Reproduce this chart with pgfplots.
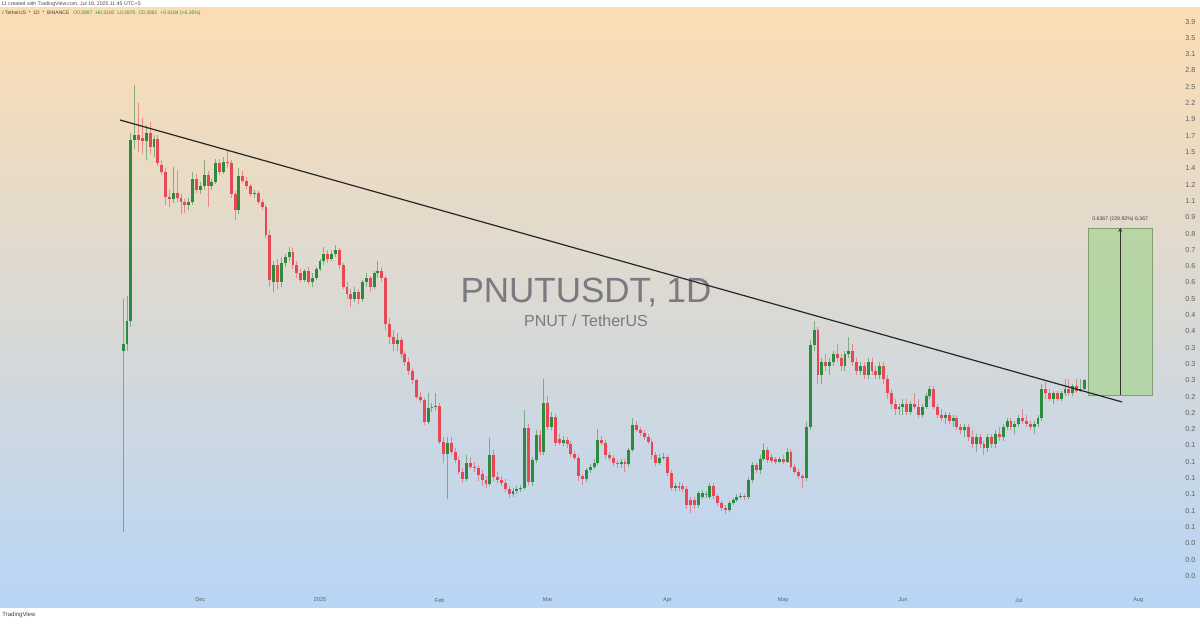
\documentclass[border=0pt]{standalone}
\usepackage{pgfplots}
\pgfplotsset{compat=1.18}
\usepackage{pgfplotstable}
\usepackage{fontspec}
\setmainfont{Liberation Sans}
\usetikzlibrary{arrows.meta}
\definecolor{cgreen}{RGB}{46,139,62}
\definecolor{cred}{RGB}{232,72,85}
\definecolor{bgtop}{RGB}{252,221,179}
\definecolor{bgmid}{RGB}{225,224,221}
\definecolor{bgbot}{RGB}{184,213,246}
\definecolor{wmgrey}{RGB}{122,122,128}
\definecolor{lblgrey}{RGB}{95,95,95}
\definecolor{boxgreen}{RGB}{170,212,150}
\definecolor{hdrgreen}{RGB}{40,140,90}

\pgfplotstableread{
d o h l c
-51 0.38 0.55 0.104 0.40
-50 0.40 0.56 0.38 0.47
-49 0.47 1.80 0.45 1.71
-48 1.71 2.54 1.60 1.77
-47 1.77 2.23 1.57 1.71
-46 1.74 2.00 1.55 1.70
-45 1.70 1.90 1.48 1.80
-44 1.80 1.95 1.55 1.63
-43 1.63 1.78 1.52 1.72
-42 1.72 1.77 1.42 1.45
-41 1.43 1.48 1.33 1.36
-40 1.36 1.40 1.08 1.14
-39 1.14 1.20 1.06 1.12
-38 1.12 1.41 1.09 1.17
-37 1.17 1.38 1.10 1.13
-36 1.13 1.16 1.01 1.10
-35 1.10 1.12 1.02 1.08
-34 1.08 1.13 1.04 1.10
-33 1.10 1.36 1.08 1.30
-32 1.30 1.34 1.17 1.20
-31 1.20 1.27 1.16 1.23
-30 1.23 1.48 1.20 1.33
-29 1.33 1.37 1.06 1.23
-28 1.23 1.30 1.20 1.27
-27 1.27 1.50 1.25 1.45
-26 1.45 1.50 1.33 1.36
-25 1.36 1.52 1.34 1.46
-24 1.46 1.58 1.40 1.45
-23 1.45 1.48 1.13 1.16
-22 1.16 1.19 0.97 1.04
-21 1.04 1.40 1.01 1.32
-20 1.32 1.37 1.26 1.28
-19 1.28 1.31 1.21 1.23
-18 1.23 1.25 1.14 1.16
-17 1.16 1.20 1.13 1.17
-16 1.17 1.19 1.08 1.10
-15 1.10 1.12 1.04 1.06
-14 1.06 1.08 0.85 0.87
-13 0.87 0.90 0.60 0.63
-12 0.62 0.72 0.58 0.70
-11 0.70 0.73 0.59 0.62
-10 0.62 0.74 0.60 0.71
-9 0.71 0.76 0.69 0.74
-8 0.74 0.80 0.72 0.77
-7 0.77 0.79 0.68 0.70
-6 0.70 0.72 0.64 0.66
-5 0.66 0.68 0.62 0.63
-4 0.63 0.68 0.62 0.67
-3 0.67 0.69 0.61 0.62
-2 0.62 0.66 0.60 0.64
-1 0.64 0.69 0.63 0.68
0 0.68 0.73 0.67 0.72
1 0.72 0.80 0.70 0.76
2 0.76 0.78 0.71 0.73
3 0.73 0.78 0.72 0.76
4 0.76 0.81 0.74 0.78
5 0.78 0.79 0.68 0.70
6 0.70 0.71 0.59 0.60
7 0.60 0.62 0.55 0.57
8 0.57 0.59 0.52 0.55
9 0.55 0.60 0.54 0.58
10 0.58 0.59 0.53 0.55
11 0.55 0.63 0.54 0.62
12 0.62 0.66 0.60 0.64
13 0.64 0.65 0.58 0.60
14 0.60 0.67 0.59 0.66
15 0.66 0.72 0.64 0.67
16 0.67 0.69 0.62 0.64
17 0.64 0.65 0.44 0.46
18 0.46 0.48 0.40 0.42
19 0.42 0.44 0.38 0.40
20 0.40 0.43 0.38 0.41
21 0.41 0.42 0.36 0.37
22 0.37 0.38 0.34 0.35
23 0.35 0.36 0.32 0.33
24 0.33 0.335 0.30 0.308
25 0.308 0.31 0.27 0.273
26 0.273 0.282 0.262 0.267
27 0.267 0.272 0.224 0.228
28 0.228 0.281 0.225 0.253
29 0.253 0.262 0.245 0.255
30 0.255 0.281 0.248 0.256
31 0.256 0.262 0.195 0.198
32 0.198 0.205 0.170 0.182
33 0.182 0.205 0.132 0.197
34 0.197 0.205 0.180 0.184
35 0.184 0.190 0.170 0.174
36 0.174 0.178 0.158 0.160
37 0.160 0.165 0.148 0.152
38 0.152 0.180 0.150 0.171
39 0.171 0.178 0.163 0.166
40 0.166 0.172 0.160 0.164
41 0.164 0.168 0.150 0.156
42 0.158 0.162 0.145 0.151
43 0.151 0.155 0.143 0.147
44 0.147 0.204 0.145 0.181
45 0.181 0.187 0.150 0.154
46 0.154 0.160 0.148 0.151
47 0.151 0.155 0.145 0.148
48 0.148 0.152 0.139 0.142
49 0.142 0.145 0.133 0.137
50 0.137 0.143 0.134 0.140
51 0.140 0.145 0.137 0.142
52 0.142 0.146 0.139 0.143
53 0.143 0.249 0.141 0.219
54 0.219 0.225 0.146 0.149
55 0.149 0.178 0.145 0.174
56 0.174 0.215 0.170 0.208
57 0.208 0.215 0.180 0.184
58 0.184 0.310 0.181 0.262
59 0.262 0.275 0.215 0.221
60 0.221 0.245 0.215 0.237
61 0.237 0.242 0.192 0.197
62 0.203 0.210 0.194 0.197
63 0.197 0.206 0.192 0.201
64 0.201 0.205 0.190 0.195
65 0.195 0.199 0.178 0.182
66 0.182 0.186 0.174 0.177
67 0.177 0.180 0.150 0.155
68 0.155 0.158 0.146 0.152
69 0.152 0.165 0.149 0.162
70 0.162 0.169 0.159 0.166
71 0.166 0.175 0.163 0.171
72 0.171 0.218 0.168 0.201
73 0.201 0.206 0.194 0.197
74 0.197 0.201 0.176 0.180
75 0.180 0.184 0.173 0.177
76 0.177 0.180 0.167 0.171
77 0.171 0.174 0.165 0.169
78 0.169 0.176 0.165 0.172
79 0.172 0.175 0.160 0.169
80 0.169 0.190 0.166 0.187
81 0.187 0.235 0.184 0.224
82 0.224 0.230 0.212 0.216
83 0.216 0.220 0.207 0.211
84 0.211 0.215 0.201 0.205
85 0.205 0.209 0.195 0.198
86 0.198 0.202 0.176 0.180
87 0.180 0.184 0.167 0.171
88 0.171 0.182 0.168 0.177
89 0.177 0.183 0.174 0.178
90 0.178 0.181 0.155 0.159
91 0.159 0.162 0.140 0.143
92 0.143 0.148 0.140 0.145
93 0.145 0.149 0.140 0.143
94 0.145 0.148 0.139 0.142
95 0.142 0.145 0.123 0.126
96 0.131 0.134 0.119 0.126
97 0.131 0.134 0.123 0.126
98 0.126 0.140 0.124 0.138
99 0.134 0.141 0.132 0.138
100 0.136 0.140 0.133 0.137
101 0.134 0.148 0.132 0.145
102 0.145 0.148 0.132 0.135
103 0.135 0.137 0.125 0.128
104 0.128 0.130 0.121 0.124
105 0.124 0.126 0.118 0.122
106 0.122 0.130 0.120 0.128
107 0.128 0.133 0.126 0.131
108 0.131 0.137 0.129 0.134
109 0.134 0.138 0.132 0.135
110 0.135 0.137 0.131 0.134
111 0.134 0.154 0.132 0.151
112 0.151 0.172 0.148 0.168
113 0.168 0.171 0.159 0.162
114 0.162 0.180 0.158 0.176
115 0.176 0.197 0.173 0.187
116 0.187 0.191 0.171 0.174
117 0.178 0.182 0.170 0.173
118 0.175 0.178 0.169 0.172
119 0.172 0.178 0.170 0.175
120 0.176 0.180 0.169 0.172
121 0.172 0.190 0.170 0.184
122 0.184 0.188 0.163 0.166
123 0.166 0.169 0.157 0.160
124 0.160 0.163 0.152 0.155
125 0.155 0.158 0.143 0.153
126 0.153 0.228 0.150 0.221
127 0.221 0.410 0.215 0.396
128 0.396 0.470 0.380 0.440
129 0.440 0.450 0.300 0.320
130 0.320 0.360 0.300 0.350
131 0.350 0.370 0.330 0.340
132 0.340 0.360 0.320 0.350
133 0.350 0.380 0.340 0.370
134 0.370 0.400 0.350 0.360
135 0.360 0.370 0.330 0.340
136 0.340 0.380 0.330 0.370
137 0.370 0.420 0.360 0.380
138 0.380 0.400 0.340 0.350
139 0.350 0.360 0.320 0.330
140 0.330 0.350 0.320 0.340
141 0.340 0.350 0.310 0.320
142 0.320 0.360 0.310 0.350
143 0.350 0.360 0.320 0.330
144 0.330 0.340 0.310 0.320
145 0.320 0.350 0.310 0.340
146 0.340 0.350 0.300 0.310
147 0.310 0.320 0.270 0.280
148 0.280 0.290 0.250 0.260
149 0.260 0.270 0.240 0.250
150 0.250 0.260 0.240 0.255
151 0.255 0.270 0.240 0.260
152 0.260 0.270 0.240 0.245
153 0.245 0.265 0.240 0.260
154 0.260 0.280 0.250 0.255
155 0.255 0.270 0.235 0.240
156 0.240 0.260 0.235 0.255
157 0.255 0.280 0.250 0.275
158 0.275 0.295 0.270 0.290
159 0.290 0.295 0.250 0.255
160 0.255 0.260 0.235 0.240
161 0.240 0.250 0.230 0.235
162 0.235 0.245 0.225 0.240
163 0.240 0.245 0.225 0.230
164 0.230 0.240 0.220 0.235
165 0.235 0.240 0.215 0.220
166 0.220 0.225 0.210 0.215
167 0.215 0.225 0.205 0.220
168 0.220 0.225 0.200 0.205
169 0.205 0.215 0.190 0.195
170 0.195 0.210 0.185 0.205
171 0.205 0.210 0.190 0.195
172 0.195 0.200 0.180 0.190
173 0.190 0.210 0.185 0.205
174 0.205 0.210 0.190 0.195
175 0.195 0.215 0.190 0.210
176 0.210 0.220 0.200 0.205
177 0.205 0.225 0.200 0.220
178 0.220 0.235 0.215 0.230
179 0.230 0.235 0.215 0.220
180 0.220 0.230 0.210 0.225
181 0.225 0.240 0.220 0.235
182 0.235 0.250 0.225 0.230
183 0.230 0.240 0.220 0.225
184 0.225 0.230 0.215 0.220
185 0.220 0.230 0.210 0.225
186 0.225 0.240 0.220 0.235
187 0.235 0.300 0.230 0.290
188 0.290 0.305 0.270 0.280
189 0.280 0.290 0.265 0.270
190 0.270 0.285 0.260 0.280
191 0.280 0.285 0.265 0.270
192 0.270 0.285 0.265 0.280
193 0.280 0.310 0.275 0.290
194 0.290 0.310 0.275 0.280
195 0.280 0.300 0.275 0.295
196 0.295 0.310 0.280 0.285
197 0.285 0.310 0.284 0.2897
198 0.2897 0.3100 0.2870 0.3081
}\pnut

\begin{document}
\begin{tikzpicture}
\begin{scope}[x=0.5pt,y=0.5pt]
\fill[white] (0,0) rectangle (1200,623);
\shade[top color=bgtop, middle color=bgmid, bottom color=bgbot] (0,16) rectangle (1200,615);
\node[anchor=west, font=\fontsize{2.6}{3}\selectfont, text=black!70, inner sep=0pt] at (1,619)
  {11 created with TradingView.com, Jul 18, 2025 11:45 UTC+5};
\node[anchor=west, font=\fontsize{2.5}{3}\selectfont, inner sep=0pt] at (2,610)
  {\textcolor{black!75}{/ TetherUS $\cdot$ 1D $\cdot$ BINANCE}\hspace{2pt}\textcolor{hdrgreen}{O0.2897\hspace{1.5pt}H0.3100\hspace{1.5pt}L0.2870\hspace{1.5pt}C0.3081\hspace{1.5pt}+0.0184 (+6.35\%)}};
\node[anchor=west, font=\fontsize{3}{3.5}\selectfont, text=black!75, inner sep=0pt] at (2,8) {TradingView};
\node[font=\fontsize{17.5}{20}\selectfont, text=wmgrey] at (586,330) {PNUTUSDT, 1D};
\node[font=\fontsize{8}{9}\selectfont, text=wmgrey] at (586,302) {PNUT / TetherUS};
\end{scope}
\begin{axis}[
  at={(0pt,16.5pt)}, anchor=south west,
  scale only axis, width=582.5pt, height=291pt,
  ymode=log,
  xmin=-82.9, xmax=218.9, ymin=0.0688, ymax=4.3954,
  axis line style={draw=none}, tick style={draw=none},
  xtick={-31,0,31,59,90,120,151,181,212},
  xticklabels={Dec,2025,Feb,Mar,Apr,May,Jun,Jul,Aug},
  xticklabel style={font=\fontsize{2.8}{3}\selectfont, text=lblgrey, anchor=center, yshift=-5pt, inner sep=0pt},
  ytick={3.988,3.550,3.160,2.813,2.503,2.228,1.983,1.765,1.571,1.399,1.245,1.108,0.9862,0.8778,0.7813,0.6955,0.6190,0.5510,0.4904,0.4365,0.3885,0.3458,0.3078,0.2740,0.2439,0.2171,0.1932,0.1720,0.1531,0.1362,0.1213,0.1079,0.0961,0.0855,0.0761},
  yticklabels={3.9,3.5,3.1,2.8,2.5,2.2,1.9,1.7,1.5,1.4,1.2,1.1,0.9,0.8,0.7,0.6,0.6,0.5,0.4,0.4,0.3,0.3,0.3,0.2,0.2,0.2,0.1,0.1,0.1,0.1,0.1,0.1,0.0,0.0,0.0},
  yticklabel pos=right,
  yticklabel style={font=\fontsize{3.6}{4}\selectfont, text=lblgrey, anchor=west, xshift=10pt, inner sep=0pt},
  cycle list={{draw=none}},
]
\addplot[fill=boxgreen, fill opacity=0.75, draw=boxgreen!75!black, line width=0.3pt, mark=none] coordinates {(199,0.277) (215.5,0.277) (215.5,0.914) (199,0.914) (199,0.277)};
\addplot[black!80, line width=0.4pt, mark=none, -{Stealth[length=2pt,width=2pt]}] coordinates {(207.3,0.277) (207.3,0.914)};
\node[anchor=south, font=\fontsize{2.6}{3}\selectfont, text=black!75, inner sep=0pt, yshift=3pt] at (axis cs:207.3,0.914) {0.6367 (229.92\%) 6,367};
\addplot[draw=none, no markers, restrict expr to domain={\thisrow{c}-\thisrow{o}}{0:100},
  error bars/.cd, y dir=plus, y explicit, error mark=none,
  error bar style={draw=cgreen, draw opacity=0.55, line width=0.5pt}]
  table[x=d, y=l, y error expr=\thisrow{h}-\thisrow{l}] {\pnut};
\addplot[draw=none, no markers, restrict expr to domain={\thisrow{o}-\thisrow{c}}{0.0000001:100},
  error bars/.cd, y dir=plus, y explicit, error mark=none,
  error bar style={draw=cred, draw opacity=0.55, line width=0.5pt}]
  table[x=d, y=l, y error expr=\thisrow{h}-\thisrow{l}] {\pnut};
\addplot[draw=none, no markers, restrict expr to domain={\thisrow{c}-\thisrow{o}}{0:100},
  error bars/.cd, y dir=plus, y explicit, error mark=none,
  error bar style={draw=cgreen, line width=1.45pt}]
  table[x=d, y=o, y error expr=\thisrow{c}-\thisrow{o}] {\pnut};
\addplot[draw=none, no markers, restrict expr to domain={\thisrow{o}-\thisrow{c}}{0.0000001:100},
  error bars/.cd, y dir=plus, y explicit, error mark=none,
  error bar style={draw=cred, line width=1.45pt}]
  table[x=d, y=c, y error expr=\thisrow{o}-\thisrow{c}] {\pnut};
\addplot[black!85, line width=0.6pt, mark=none] coordinates {(-51.8,1.975) (207.8,0.2635)};
\end{axis}
\pgfresetboundingbox
\path[use as bounding box] (0pt,0pt) rectangle (600pt,311.5pt);
\end{tikzpicture}
\end{document}
